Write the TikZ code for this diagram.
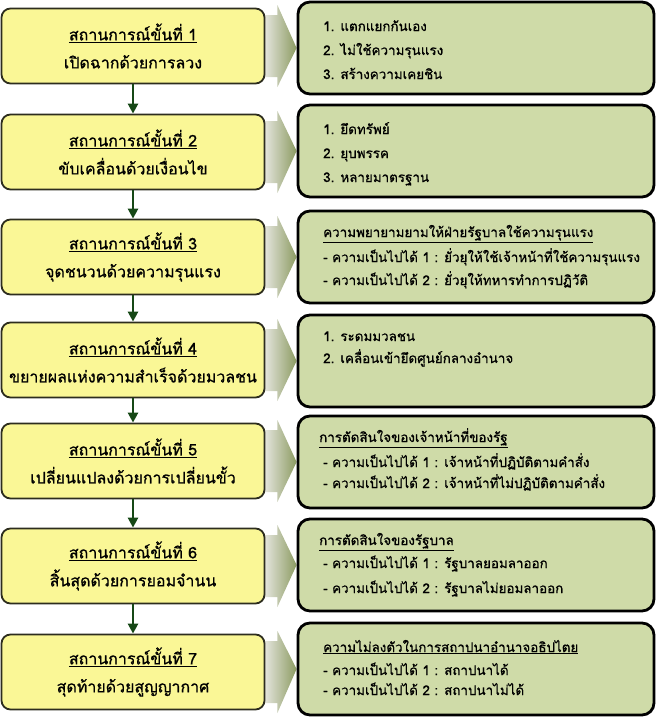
\documentclass[tikz,border=0pt]{standalone}
\usepackage{fontspec}
\setmainfont[Script=Thai,FakeBold=0.8]{Loma}
\usetikzlibrary{arrows.meta,calc,backgrounds}
\definecolor{lfill}{RGB}{250,247,150}
\definecolor{lborder}{RGB}{45,45,30}
\definecolor{rfill}{RGB}{207,219,168}
\definecolor{arrgreen}{RGB}{22,72,22}
\definecolor{chevL}{RGB}{232,232,226}
\definecolor{chevR}{RGB}{140,155,98}
\begin{document}
\begin{tikzpicture}[x=1pt,y=-1pt,
  lbox/.style={draw=lborder, line width=1.8pt, fill=lfill, rounded corners=9pt,
    minimum width=263pt, minimum height=75pt, align=center, inner sep=0pt,
    font=\fontsize{16}{28}\selectfont},
  rbox/.style={draw=black, line width=2.8pt, fill=rfill, rounded corners=12pt,
    minimum width=356pt, minimum height=92pt, inner sep=0pt},
  rtxt/.style={anchor=base west, inner sep=0pt, font=\fontsize{13.4}{16}\selectfont},
  darr/.style={draw=arrgreen, line width=2.6pt, -{Triangle[length=10pt,width=10pt]}},
  chev/.style={left color=chevL, right color=chevR},
]
\useasboundingbox (0,0) rectangle (657,720);

% left boxes
\node[lbox] (l1) at (133,46) {\underline{สถานการณ์ขั้นที่ 1}\\เปิดฉากด้วยการลวง};
\node[lbox] (l2) at (133,152) {\underline{สถานการณ์ขั้นที่ 2}\\ขับเคลื่อนด้วยเงื่อนไข};
\node[lbox] (l3) at (133,257) {\underline{สถานการณ์ขั้นที่ 3}\\จุดชนวนด้วยความรุนแรง};
\node[lbox] (l4) at (133,360) {\underline{สถานการณ์ขั้นที่ 4}\\ขยายผลแห่งความสำเร็จด้วยมวลชน};
\node[lbox] (l5) at (133,461) {\underline{สถานการณ์ขั้นที่ 5}\\เปลี่ยนแปลงด้วยการเปลี่ยนขั้ว};
\node[lbox] (l6) at (133,566) {\underline{สถานการณ์ขั้นที่ 6}\\สิ้นสุดด้วยการยอมจำนน};
\node[lbox] (l7) at (133,672) {\underline{สถานการณ์ขั้นที่ 7}\\สุดท้ายด้วยสูญญากาศ};

% right boxes
\node[rbox] (r1) at (476,48) {};
\node[rbox] (r2) at (476,151) {};
\node[rbox] (r3) at (476,257) {};
\node[rbox] (r4) at (476,361) {};
\node[rbox] (r5) at (476,462) {};
\node[rbox] (r6) at (476,565) {};
\node[rbox] (r7) at (476,669) {};

% chevrons behind
\begin{scope}[on background layer]
\foreach \i in {1,...,7}{
  \shade[chev] ($(l\i.east)+(-2,-31)$) -- ($(l\i.east)+(12,-31)$) -- ($(l\i.east)+(12,-41)$)
    -- ($(r\i.west)+(0,0)$) -- ($(l\i.east)+(12,41)$) -- ($(l\i.east)+(12,31)$)
    -- ($(l\i.east)+(-2,31)$) -- cycle;
}
\end{scope}

% down arrows
\foreach \a/\b in {l1/l2,l2/l3,l3/l4,l4/l5,l5/l6,l6/l7}{
  \draw[darr] (\a.south) -- (\b.north);
}

% right texts
\node[rtxt] (t11) at (323,31) {1. แตกแยกกันเอง};
\node[rtxt] (t12) at (323,55) {2. ไม่ใช้ความรุนแรง};
\node[rtxt] (t13) at (323,79) {3. สร้างความเคยชิน};

\node[rtxt] (t21) at (323,134) {1. ยึดทรัพย์};
\node[rtxt] (t22) at (323,158) {2. ยุบพรรค};
\node[rtxt] (t23) at (323,182) {3. หลายมาตรฐาน};

\node[rtxt] (t31) at (323,237) {\underline{ความพยายามยามให้ฝ่ายรัฐบาลใช้ความรุนแรง}};
\node[rtxt] (t32) at (323,262) {- ความเป็นไปได้ 1 : ยั่วยุให้ใช้เจ้าหน้าที่ใช้ความรุนแรง};
\node[rtxt] (t33) at (323,285) {- ความเป็นไปได้ 2 : ยั่วยุให้ทหารทำการปฏิวัติ};

\node[rtxt] (t41) at (323,341) {1. ระดมมวลชน};
\node[rtxt] (t42) at (323,363) {2. เคลื่อนเข้ายึดศูนย์กลางอำนาจ};

\node[rtxt] (t51) at (319,442) {\underline{การตัดสินใจของเจ้าหน้าที่ของรัฐ}};
\node[rtxt] (t52) at (323,467) {- ความเป็นไปได้ 1 : เจ้าหน้าที่ปฏิบัติตามคำสั่ง};
\node[rtxt] (t53) at (323,488) {- ความเป็นไปได้ 2 : เจ้าหน้าที่ไม่ปฏิบัติตามคำสั่ง};

\node[rtxt] (t61) at (319,545) {\underline{การตัดสินใจของรัฐบาล}};
\node[rtxt] (t62) at (323,568) {- ความเป็นไปได้ 1 : รัฐบาลยอมลาออก};
\node[rtxt] (t63) at (323,593) {- ความเป็นไปได้ 2 : รัฐบาลไม่ยอมลาออก};

\node[rtxt] (t71) at (323,652) {\underline{ความไม่ลงตัวในการสถาปนาอำนาจอธิปไตย}};
\node[rtxt] (t72) at (323,675) {- ความเป็นไปได้ 1 : สถาปนาได้};
\node[rtxt] (t73) at (323,695) {- ความเป็นไปได้ 2 : สถาปนาไม่ได้};
\end{tikzpicture}
\end{document}
